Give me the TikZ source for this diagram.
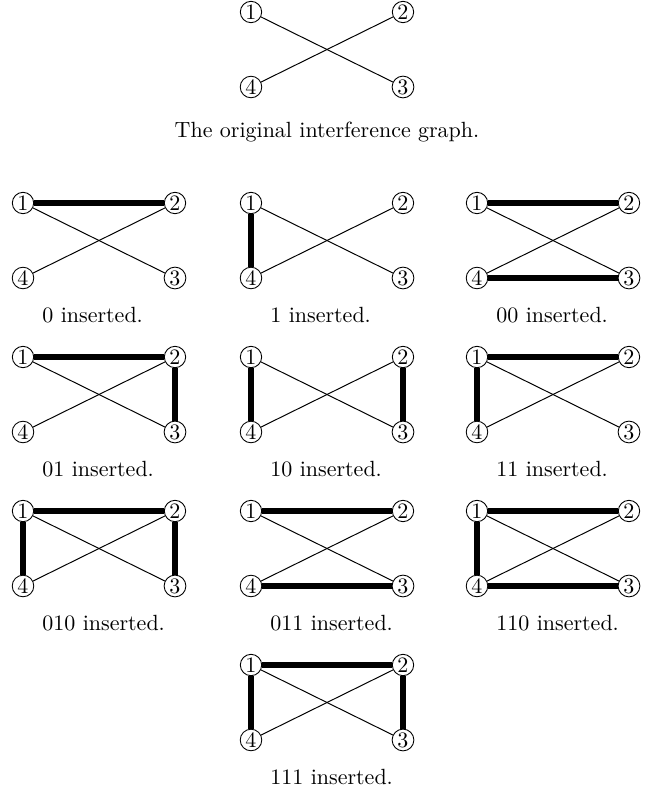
\documentclass[tikz,border=0pt]{standalone}
\begin{document}
\begin{tikzpicture}[x=0.4545pt,y=-0.4545pt,
  vtx/.style={circle,draw,inner sep=0.5pt,line width=0.4pt},
  plainedge/.style={line width=0.45pt},
  heavy/.style={line width=2.5pt},
  captxt/.style={anchor=base west,inner sep=0pt},
  toptxt/.style={anchor=base,inner sep=0pt}]
\useasboundingbox (0,0) rectangle (656,791);
\newcommand\drawgr[4]{%
  \node[vtx] (#1-1) at (#2,#3) {1};
  \node[vtx] (#1-2) at ({#2+152},#3) {2};
  \node[vtx] (#1-4) at (#2,{#3+75}) {4};
  \node[vtx] (#1-3) at ({#2+152},{#3+75}) {3};
  \draw[plainedge] (#1-1) -- (#1-3);
  \draw[plainedge] (#1-4) -- (#1-2);
  \node[captxt] (#1-cap) at ({#2+19},{#3+119}) {#4 inserted.};
}
% original graph
\node[vtx] (o-1) at (251,12) {1};
\node[vtx] (o-2) at (403,12) {2};
\node[vtx] (o-4) at (251,87) {4};
\node[vtx] (o-3) at (403,87) {3};
\draw[plainedge] (o-1) -- (o-3);
\draw[plainedge] (o-4) -- (o-2);
\node[toptxt] (o-cap) at (327,137) {The original interference graph.};
% row 1
\drawgr{a}{23}{203}{0}
\draw[heavy] (a-1) -- (a-2);
\drawgr{b}{251}{203}{1}
\draw[heavy] (b-1) -- (b-4);
\drawgr{c}{477}{203}{00}
\draw[heavy] (c-1) -- (c-2);
\draw[heavy] (c-4) -- (c-3);
% row 2
\drawgr{d}{23}{357}{01}
\draw[heavy] (d-1) -- (d-2);
\draw[heavy] (d-2) -- (d-3);
\drawgr{e}{251}{357}{10}
\draw[heavy] (e-1) -- (e-4);
\draw[heavy] (e-2) -- (e-3);
\drawgr{f}{477}{357}{11}
\draw[heavy] (f-1) -- (f-2);
\draw[heavy] (f-1) -- (f-4);
% row 3
\drawgr{g}{23}{511}{010}
\draw[heavy] (g-1) -- (g-2);
\draw[heavy] (g-1) -- (g-4);
\draw[heavy] (g-2) -- (g-3);
\drawgr{h}{251}{511}{011}
\draw[heavy] (h-1) -- (h-2);
\draw[heavy] (h-4) -- (h-3);
\drawgr{i}{477}{511}{110}
\draw[heavy] (i-1) -- (i-2);
\draw[heavy] (i-1) -- (i-4);
\draw[heavy] (i-4) -- (i-3);
% row 4
\drawgr{j}{251}{665}{111}
\draw[heavy] (j-1) -- (j-2);
\draw[heavy] (j-1) -- (j-4);
\draw[heavy] (j-2) -- (j-3);
\end{tikzpicture}
\end{document}
